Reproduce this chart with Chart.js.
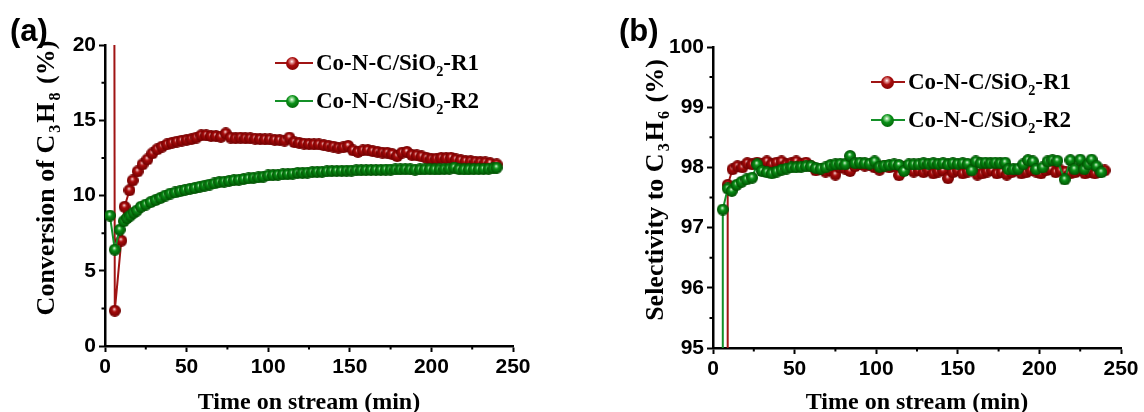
<!DOCTYPE html>
<html lang="en">
<head>
<meta charset="UTF-8" />
<title>Co-N-C/SiO2 conversion and selectivity</title>
<script src="https://cdn.jsdelivr.net/npm/chart.js"></script>
<style>
  body { margin:0; width:1144px; height:412px; background:#fff; position:relative; overflow:hidden;
         font-family:"Liberation Serif", "Times New Roman", serif; color:#000; }
  canvas { position:absolute; top:0; }
  .panel { position:absolute; font:bold 31px "Liberation Sans", Arial, sans-serif; line-height:1; }
  .title { position:absolute; font-weight:bold; font-size:24px; white-space:nowrap; line-height:1;
           transform:translate(-50%,-50%); }
  .ytitle { font-size:26px; transform:translate(-50%,-50%) rotate(-90deg); }
  .ytitle sub { margin:0 2px; }
  sub { font-size:0.62em; vertical-align:-0.4em; line-height:0; }
  .row { position:absolute; height:0; }
  .row .line { position:absolute; height:2px; top:-1px; }
  .row .ball { position:absolute; width:13px; height:13px; top:-6.5px; border-radius:50%; }
  .row .txt { position:absolute; top:-12px; font-weight:bold; font-size:23px; line-height:23px; white-space:nowrap; }
  .red .line { background:#a01414; }
  .red .ball { background:radial-gradient(circle at 45% 35%, #fff 0, #e8a0a0 12%, #a80c0c 38%, #700000 100%); }
  .green .line { background:#149028; }
  .green .ball { background:radial-gradient(circle at 45% 35%, #fff 0, #a0e0a0 12%, #0a9018 38%, #004e00 100%); }
</style>
</head>
<body>

<canvas id="conv" width="572" height="412" style="left:0"></canvas>
<canvas id="sel" width="572" height="412" style="left:572px"></canvas>

<!-- panel (a) labels -->
<div class="panel" style="left:10px; top:15px">(a)</div>
<div class="title ytitle" style="left:46px; top:178px">Conversion of C<sub>3</sub>H<sub>8</sub> (%)</div>
<div class="title" style="left:309px; top:401px">Time on stream (min)</div>
<div class="row red" style="left:0; top:63px">
  <div class="line" style="left:275px; width:38px"></div>
  <div class="ball" style="left:285.5px"></div>
  <span class="txt" style="left:316px">Co-N-C/SiO<sub>2</sub>-R1</span>
</div>
<div class="row green" style="left:0; top:101px">
  <div class="line" style="left:275px; width:38px"></div>
  <div class="ball" style="left:285.5px"></div>
  <span class="txt" style="left:316px">Co-N-C/SiO<sub>2</sub>-R2</span>
</div>

<!-- panel (b) labels -->
<div class="panel" style="left:619px; top:15px">(b)</div>
<div class="title ytitle" style="left:655px; top:190px">Selectivity to C<sub>3</sub>H<sub>6</sub> (%)</div>
<div class="title" style="left:917px; top:401px">Time on stream (min)</div>
<div class="row red" style="left:0; top:82px">
  <div class="line" style="left:871px; width:34px"></div>
  <div class="ball" style="left:880.5px"></div>
  <span class="txt" style="left:908px">Co-N-C/SiO<sub>2</sub>-R1</span>
</div>
<div class="row green" style="left:0; top:120px">
  <div class="line" style="left:871px; width:34px"></div>
  <div class="ball" style="left:880.5px"></div>
  <span class="txt" style="left:908px">Co-N-C/SiO<sub>2</sub>-R2</span>
</div>

<script>
// ---- data ----
// (a) propane conversion, %
const convTimeR1 = [5.5, 6, 10, 12, 15, 17, 20, 23, 26, 29, 32, 35, 38, 41, 44, 47, 50, 53, 56, 59,
  62, 65, 68, 71, 74, 77, 80, 83, 86, 89, 92, 95, 98, 101, 104, 107, 110, 113, 116, 119,
  122, 125, 128, 131, 134, 137, 140, 143, 146, 149, 152, 155, 158, 161, 164, 167, 170, 173, 176, 179,
  182, 185, 188, 191, 194, 197, 200, 203, 206, 209, 212, 215, 218, 221, 224, 227, 230, 233, 236, 240];
const convR1 = [40, 2.35, 7.0, 9.25, 10.35, 11.0, 11.6, 12.07, 12.4, 12.8, 13.07, 13.25, 13.4, 13.5, 13.58, 13.65, 13.7, 13.75, 13.85, 14.0,
  14.0, 13.95, 13.95, 13.9, 14.13, 13.85, 13.8, 13.85, 13.8, 13.8, 13.78, 13.75, 13.73, 13.73, 13.7, 13.68, 13.65, 13.85, 13.55, 13.5,
  13.45, 13.42, 13.4, 13.4, 13.35, 13.3, 13.25, 13.18, 13.2, 13.3, 13.0, 12.9, 13.0, 13.02, 12.95, 12.9, 12.85, 12.84, 12.75, 12.62,
  12.85, 12.9, 12.7, 12.67, 12.6, 12.5, 12.44, 12.45, 12.5, 12.48, 12.51, 12.4, 12.35, 12.29, 12.28, 12.25, 12.22, 12.2, 12.15, 12.07];

const convTimeR2 = [3, 6, 9, 11.5, 13.5, 15.5, 17.5, 19.5, 22, 25, 28, 31, 34, 37, 40, 43, 46, 49, 52, 55,
  58, 61, 64, 67, 70, 73, 76, 79, 82, 85, 88, 91, 94, 97, 100, 103, 106, 109, 112, 115,
  118, 121, 124, 127, 130, 133, 136, 139, 142, 145, 148, 151, 154, 157, 160, 163, 166, 169, 172, 175,
  178, 181, 184, 187, 190, 193, 196, 199, 202, 205, 208, 211, 214, 217, 220, 223, 226, 229, 232, 235, 238, 240];
const convR2 = [8.67, 6.4, 7.73, 8.29, 8.5, 8.67, 8.85, 9.0, 9.25, 9.4, 9.56, 9.7, 9.84, 10.0, 10.13, 10.2, 10.29, 10.37, 10.44, 10.5,
  10.58, 10.65, 10.73, 10.8, 10.89, 10.92, 10.97, 11.02, 11.05, 11.1, 11.13, 11.18, 11.2, 11.25, 11.33, 11.35, 11.38, 11.4, 11.42, 11.45,
  11.5, 11.5, 11.52, 11.55, 11.57, 11.58, 11.6, 11.62, 11.63, 11.64, 11.65, 11.66, 11.67, 11.68, 11.69, 11.7, 11.7, 11.7, 11.72, 11.72,
  11.73, 11.73, 11.75, 11.73, 11.72, 11.73, 11.74, 11.75, 11.73, 11.74, 11.76, 11.78, 11.85, 11.75, 11.73, 11.74, 11.75, 11.75, 11.76, 11.78, 11.8, 11.85];

// (b) propylene selectivity, %
const selTimeR1 = [9, 9, 12, 15, 18, 21, 24, 27, 30, 33, 36, 39, 42, 45, 48, 51, 54, 57, 60,
  63, 66, 69, 72, 75, 78, 81, 84, 87, 90, 93, 96, 99, 102, 105, 108, 111, 114, 117, 120,
  123, 126, 129, 132, 135, 138, 141, 144, 147, 150, 153, 156, 159, 162, 165, 168, 171, 174, 177, 180,
  183, 186, 189, 192, 195, 198, 201, 204, 207, 210, 213, 216, 219, 222, 225, 228, 231, 234, 237, 240];
const selR1 = [90, 97.71, 97.97, 98.02, 98.0, 98.07, 98.05, 98.08, 98.06, 98.1, 98.05, 98.08, 98.1, 98.05, 98.07, 98.1, 98.05, 98.08, 98.02,
  97.95, 97.97, 97.93, 97.95, 97.88, 98.0, 97.98, 97.94, 98.02, 98.05, 98.03, 98.04, 98.0, 97.96, 98.02, 98.0, 98.03, 97.87, 98.0, 97.97,
  97.93, 97.95, 97.92, 97.95, 97.9, 97.93, 97.95, 97.82, 97.92, 97.95, 97.9, 97.93, 97.95, 97.88, 97.9, 97.93, 97.95, 97.9, 97.92, 97.88,
  97.92, 97.95, 97.9, 97.92, 97.95, 97.93, 97.9, 97.95, 97.97, 97.92, 97.95, 97.93, 97.9, 97.92, 97.95, 97.9, 97.92, 97.9, 97.93, 97.95];

const selTimeR2 = [6, 6, 9, 11.5, 14.5, 17.5, 20.5, 24, 27, 30, 33, 36, 39, 42, 45, 48, 51, 54, 57, 60,
  63, 66, 69, 72, 75, 78, 81, 84, 87, 90, 93, 96, 99, 102, 105, 108, 111, 114, 117, 120,
  123, 126, 129, 132, 135, 138, 141, 144, 147, 150, 153, 156, 158.5, 161, 164, 167, 170, 173, 176, 179,
  181, 184, 187, 190, 193, 196, 198, 202, 205, 208, 211, 215.5, 219, 221.5, 225, 227.5, 230, 232, 235, 238];
const selR2 = [90, 97.3, 97.65, 97.61, 97.71, 97.76, 97.8, 97.83, 98.05, 97.94, 97.92, 97.9, 97.93, 97.96, 97.98, 98.0, 98.0, 98.01, 98.02, 98.02,
  97.99, 97.98, 98.0, 98.04, 98.05, 98.06, 98.05, 98.19, 98.07, 98.08, 98.07, 98.06, 98.1, 98.01, 98.03, 98.04, 98.05, 98.04, 97.94, 98.05,
  98.05, 98.05, 98.07, 98.06, 98.07, 98.06, 98.07, 98.05, 98.07, 98.06, 98.07, 98.06, 97.95, 98.1, 98.07, 98.08, 98.07, 98.08, 98.07, 98.08,
  97.97, 97.97, 97.98, 98.05, 98.12, 98.1, 97.97, 98.0, 98.1, 98.12, 98.11, 97.8, 98.12, 97.97, 98.13, 97.97, 98.05, 98.13, 98.02, 97.92];

// axis ticks
const timeTicks = [0, 50, 100, 150, 200, 250];
const timeMinor = [25, 75, 125, 175, 225];
const convTicks = [0, 5, 10, 15, 20];
const convMinor = [2.5, 7.5, 12.5, 17.5];
const selTicks = [95, 96, 97, 98, 99, 100];
const selMinor = [95.5, 96.5, 97.5, 98.5, 99.5];

// ---- styling ----
const RED = '#a01414';
const GREEN = '#149028';

// shaded sphere used as the point marker
function ball(mid, light, dark, r) {
  const c = document.createElement('canvas');
  c.width = c.height = r * 2;
  const g = c.getContext('2d');
  const grad = g.createRadialGradient(r * 0.9, r * 0.7, 0, r, r, r);
  grad.addColorStop(0, '#ffffff');
  grad.addColorStop(0.12, light);
  grad.addColorStop(0.38, mid);
  grad.addColorStop(1, dark);
  g.fillStyle = grad;
  g.beginPath();
  g.arc(r, r, r, 0, Math.PI * 2);
  g.fill();
  return c;
}
const redBall = ball('#a80c0c', '#e8a0a0', '#700000', 6);
const greenBall = ball('#0a9018', '#a0e0a0', '#004e00', 6);

const pts = (xs, ys) => xs.map((x, i) => ({ x: x, y: ys[i] }));

// short outward ticks between the labelled ones
const minorTicks = {
  id: 'minorTicks',
  afterDraw(chart, args, opts) {
    const { ctx, chartArea } = chart;
    const xs = chart.scales.x, ys = chart.scales.y;
    ctx.save();
    ctx.strokeStyle = '#000';
    ctx.lineWidth = 2;
    ctx.beginPath();
    opts.x.forEach(v => {
      const px = xs.getPixelForValue(v);
      ctx.moveTo(px, chartArea.bottom);
      ctx.lineTo(px, chartArea.bottom + 3.5);
    });
    opts.y.forEach(v => {
      const py = ys.getPixelForValue(v);
      ctx.moveTo(chartArea.left, py);
      ctx.lineTo(chartArea.left - 3.5, py);
    });
    ctx.stroke();
    ctx.restore();
  }
};

const tickFont = { family: '"Liberation Sans", Arial, sans-serif', size: 21, weight: 'bold' };

function axis(min, max, values, extra) {
  return Object.assign({
    type: 'linear',
    min: min,
    max: max,
    afterBuildTicks: s => { s.ticks = values.map(v => ({ value: v })); },
    grid: { drawOnChartArea: false, tickLength: 6, tickColor: '#000', tickWidth: 2 },
    border: { display: true, color: '#000', width: 2.5 },
    ticks: { color: '#000', font: tickFont }
  }, extra);
}

function makeChart(id, c) {
  return new Chart(document.getElementById(id), {
    type: 'line',
    data: {
      datasets: [
        { data: pts(c.t2, c.y2), borderColor: GREEN, borderWidth: 2, pointStyle: greenBall,
          pointRadius: 6, tension: 0, order: 0 },
        { data: pts(c.t1, c.y1), borderColor: RED, borderWidth: 2, pointStyle: redBall,
          pointRadius: 6, tension: 0, order: 1 }
      ]
    },
    options: {
      responsive: false,
      animation: false,
      events: [],
      layout: { padding: c.pad },
      plugins: {
        legend: { display: false },
        tooltip: { enabled: false },
        minorTicks: { x: timeMinor, y: c.minor }
      },
      scales: {
        x: axis(0, 250, timeTicks, {
          afterFit: s => { s.height = c.xh; }
        }),
        y: axis(c.ymin, c.ymax, c.ticks, {
          afterFit: s => { s.width = 50; }
        })
      }
    },
    plugins: [minorTicks]
  });
}

makeChart('conv', {
  t1: convTimeR1, y1: convR1, t2: convTimeR2, y2: convR2,
  ymin: 0, ymax: 20, ticks: convTicks, minor: convMinor,
  pad: { left: 55, top: 45, right: 59, bottom: 0 }, xh: 66
});

makeChart('sel', {
  t1: selTimeR1, y1: selR1, t2: selTimeR2, y2: selR2,
  ymin: 95, ymax: 100, ticks: selTicks, minor: selMinor,
  pad: { left: 91, top: 47, right: 23, bottom: 0 }, xh: 64
});
</script>
</body>
</html>
